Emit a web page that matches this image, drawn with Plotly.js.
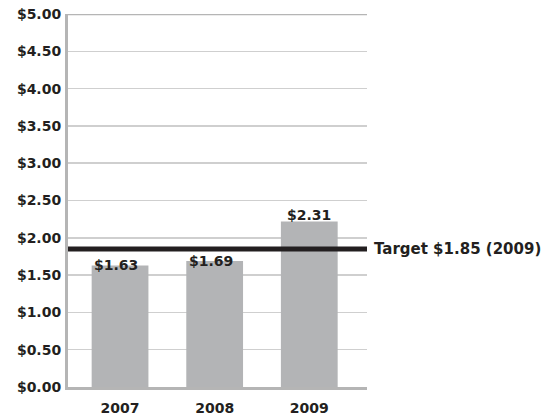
<!DOCTYPE html>
<html>
<head>
<meta charset="utf-8">
<script src="https://cdn.plot.ly/plotly-3.0.1.min.js"></script>
<style>html,body{margin:0;padding:0;background:#fff}#chart{width:560px;height:420px}</style>
</head>
<body>
<div id="chart"></div>
<script>
// Data
const years = ['2007', '2008', '2009'];
const barHeights = [1.63, 1.69, 2.22];      // drawn bar heights
const labelValues = [1.63, 1.69, 2.31];     // printed values (label positions)
const labelTexts = ['$1.63', '$1.69', '$2.31'];
const targetValue = 1.85;
const targetText = 'Target $1.85 (2009)';
const yTickVals = [0, 0.5, 1, 1.5, 2, 2.5, 3, 3.5, 4, 4.5, 5];
const yTickText = ['$0.00', '$0.50', '$1.00', '$1.50', '$2.00', '$2.50', '$3.00', '$3.50', '$4.00', '$4.50', '$5.00'];

const FONT = 'DejaVu Sans, sans-serif';
const TXT = '#231f20';

const trace = {
  type: 'bar',
  x: years,
  y: barHeights,
  width: 0.6,
  marker: {color: '#b3b4b6', line: {width: 0}},
  hoverinfo: 'none'
};

const annotations = years.map((yr, i) => ({
  x: i, y: labelValues[i], xref: 'x', yref: 'y',
  text: '<b>' + labelTexts[i] + '</b>',
  showarrow: false, xanchor: 'center', yanchor: 'middle',
  xshift: i < 2 ? -4 : 0,
  font: {family: FONT, size: 14, color: TXT}
}));
annotations.push({
  x: 1, xref: 'paper', y: targetValue, yref: 'y',
  text: '<b>' + targetText + '</b>',
  showarrow: false, xanchor: 'left', yanchor: 'middle', xshift: 5,
  font: {family: FONT, size: 15, color: TXT}
});

const layout = {
  width: 560, height: 420,
  margin: {l: 68, r: 193, t: 14, b: 33},
  paper_bgcolor: '#ffffff', plot_bgcolor: '#ffffff',
  showlegend: false,
  bargap: 0.4,
  xaxis: {
    type: 'category',
    range: [-0.55, 2.61],
    showgrid: false, zeroline: false,
    showline: true, linecolor: '#b5b5b5', linewidth: 3,
    ticks: '', ticklabelstandoff: 6,
    tickfont: {family: FONT, size: 14, color: TXT},
    tickprefix: '<b>', ticksuffix: '</b>',
    fixedrange: true
  },
  yaxis: {
    range: [0, 5],
    tickvals: yTickVals,
    ticktext: yTickText.map(t => '<b>' + t + '</b>'),
    showgrid: true, gridcolor: '#cfcfcf', gridwidth: 1.5,
    zeroline: false,
    showline: true, linecolor: '#b5b5b5', linewidth: 3,
    ticks: '', ticklabelstandoff: 1,
    tickfont: {family: FONT, size: 14, color: TXT},
    fixedrange: true
  },
  shapes: [
    {type: 'line', xref: 'paper', x0: 0, x1: 1, yref: 'y', y0: 5, y1: 5,
     line: {color: '#b5b5b5', width: 2.5}},
    {type: 'line', xref: 'paper', x0: 0, x1: 1, yref: 'y', y0: targetValue, y1: targetValue,
     line: {color: '#231f20', width: 5}}
  ],
  annotations: annotations
};

Plotly.newPlot('chart', [trace], layout, {staticPlot: true, displayModeBar: false});
</script>
</body>
</html>
